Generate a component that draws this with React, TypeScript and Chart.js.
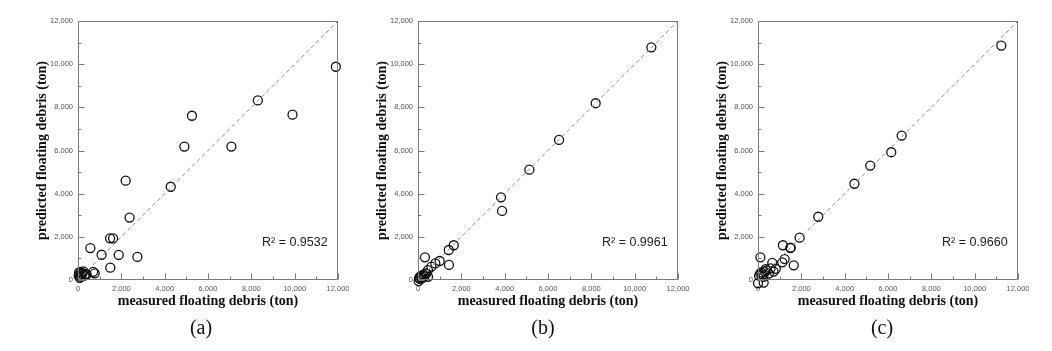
import React, { useEffect, useRef } from "react";
import { Chart, registerables } from "chart.js";

Chart.register(...registerables);

const captions = ["(a)", "(b)", "(c)"];
const r2Labels = ["0.9532", "0.9961", "0.9660"];
const axisMax = 12000;
const tickStep = 2000;
const diagonal = [0, 12000];

const measuredA = [11900, 8300, 9900, 5260, 4910, 7080, 2200, 4280, 2380, 1480, 1620, 570, 1090, 1880, 2740, 1490, 770, 700, 50, 100, 200, 150, 300, 250, 80, 350, 30, 180, 120, 400];
const predictedA = [9880, 8320, 7660, 7610, 6180, 6180, 4600, 4320, 2890, 1930, 1930, 1480, 1170, 1160, 1070, 570, 310, 380, 350, 250, 300, 150, 200, 400, 100, 280, 200, 330, 380, 250];

const measuredB = [10770, 8200, 6510, 5140, 3830, 3880, 1650, 1420, 320, 1430, 1000, 800, 620, 460, 380, 460, 50, 100, 150, 200, 250, 80, 30, 300, 350, 180];
const predictedB = [10780, 8190, 6490, 5110, 3830, 3200, 1610, 1390, 1050, 700, 880, 770, 620, 460, 310, 150, 100, 150, 200, 130, 250, 50, -50, 180, 300, 80];

const measuredC = [11230, 6630, 6150, 5180, 4450, 2780, 1920, 1150, 1490, 1510, 1230, 1650, 1120, 110, 660, 820, 720, 580, 260, 0, 100, 200, 300, 150, 400, 50, 250, 350, 500];
const predictedC = [10860, 6690, 5920, 5300, 4460, 2930, 1960, 1610, 1480, 1500, 970, 680, 820, 1050, 790, 520, 390, 540, -120, -150, 300, 250, 400, 350, 450, 200, 150, 500, 300];

const panels = [
  { measured: measuredA, predicted: predictedA },
  { measured: measuredB, predicted: predictedB },
  { measured: measuredC, predicted: predictedC },
];

const PANEL_STEP = 340;
const CANVAS_W = 350;
const CANVAS_H = 320;

const framePlugin = {
  id: "frameTicks",
  afterDraw(chart: any) {
    const { ctx, chartArea } = chart;
    const xs = chart.scales.x;
    const ys = chart.scales.y;
    ctx.save();
    ctx.strokeStyle = "#7a7a7a";
    ctx.lineWidth = 1;
    const l = Math.round(chartArea.left) + 0.5;
    const t = Math.round(chartArea.top) + 0.5;
    const r = Math.round(chartArea.right) - 0.5;
    const b = Math.round(chartArea.bottom) - 0.5;
    ctx.beginPath();
    ctx.rect(l, t, r - l, b - t);
    ctx.stroke();
    ctx.beginPath();
    for (let v = 0; v <= axisMax; v += tickStep / 2) {
      const len = v % tickStep === 0 ? 6 : 3;
      const px = Math.round(xs.getPixelForValue(v)) + 0.5;
      ctx.moveTo(px, b);
      ctx.lineTo(px, b - len);
      const py = Math.round(ys.getPixelForValue(v)) + 0.5;
      ctx.moveTo(l, py);
      ctx.lineTo(l + len, py);
    }
    ctx.stroke();
    const label = chart.options.plugins.frameTicks.label;
    ctx.fillStyle = "#222";
    ctx.font = "12.5px 'Liberation Sans', Arial, sans-serif";
    ctx.textBaseline = "middle";
    ctx.textAlign = "left";
    ctx.fillText("R\u00B2 = " + label, chartArea.left + 184, chartArea.top + 222);
    ctx.restore();
  },
};

function Panel({ index }: { index: number }) {
  const ref = useRef<HTMLCanvasElement | null>(null);
  useEffect(() => {
    if (!ref.current) return;
    const p = panels[index];
    const pts = p.measured.map((m, i) => ({ x: m, y: p.predicted[i] }));
    const tickFont = { family: "'Liberation Sans', Arial, sans-serif", size: 7.5 };
    const titleFont = { family: "'Liberation Serif', 'Times New Roman', serif", size: 14, weight: "bold" as const };
    const chart = new Chart(ref.current, {
      type: "scatter",
      data: {
        datasets: [
          {
            type: "line",
            data: diagonal.map((d) => ({ x: d, y: d })),
            borderColor: "#8a8a8a",
            borderWidth: 1,
            borderDash: [4, 3],
            pointRadius: 0,
            fill: false,
          } as any,
          {
            data: pts,
            pointStyle: "circle",
            pointRadius: 4.5,
            pointBorderWidth: 1.3,
            pointBorderColor: "#111",
            pointBackgroundColor: "rgba(0,0,0,0)",
            borderColor: "#111",
            backgroundColor: "rgba(0,0,0,0)",
            clip: false,
          } as any,
        ],
      },
      options: {
        responsive: false,
        animation: false,
        devicePixelRatio: 1,
        layout: { padding: { top: 21, right: 12, left: 0, bottom: 0 } },
        plugins: {
          legend: { display: false },
          tooltip: { enabled: false },
          frameTicks: { label: r2Labels[index] },
        } as any,
        scales: {
          x: {
            type: "linear",
            min: 0,
            max: axisMax,
            grid: { display: false, drawTicks: false },
            border: { display: false },
            ticks: {
              stepSize: tickStep,
              font: tickFont,
              color: "#555",
              padding: 4,
              maxRotation: 0,
              callback: (v: any) => Number(v).toLocaleString("en-US"),
            },
            title: {
              display: true,
              text: "measured floating debris (ton)",
              font: titleFont,
              color: "#111",
              padding: { top: 0, bottom: 10.6 },
            },
            afterFit: (s: any) => {
              s.height = 40;
              s.paddingLeft = 0;
              s.paddingRight = 0;
            },
          },
          y: {
            type: "linear",
            min: 0,
            max: axisMax,
            grid: { display: false, drawTicks: false },
            border: { display: false },
            ticks: {
              stepSize: tickStep,
              font: tickFont,
              color: "#555",
              padding: 5,
              callback: (v: any) => Number(v).toLocaleString("en-US"),
            },
            title: {
              display: true,
              text: "predicted floating debris (ton)",
              font: titleFont,
              color: "#111",
              padding: { top: 33.6, bottom: 0 },
            },
            afterFit: (s: any) => {
              s.width = 78;
              s.paddingTop = 0;
              s.paddingBottom = 0;
            },
          },
        } as any,
      },
      plugins: [framePlugin as any],
    });
    return () => chart.destroy();
  }, [index]);
  return (
    <canvas
      ref={ref}
      width={CANVAS_W}
      height={CANVAS_H}
      style={{ position: "absolute", left: index * PANEL_STEP, top: 0, width: CANVAS_W, height: CANVAS_H }}
    />
  );
}

const captionCenters = [201, 543, 882];

export default function App() {
  return (
    <div style={{ position: "absolute", left: 0, top: 0, width: 1052, height: 351, background: "#fff", overflow: "hidden" }}>
      {captions.map((_, i) => (
        <Panel key={i} index={i} />
      ))}
      {captions.map((c, i) => (
        <div
          key={"c" + i}
          style={{
            position: "absolute",
            left: captionCenters[i] - 40,
            width: 80,
            top: 315,
            textAlign: "center",
            fontFamily: "'Liberation Serif', 'Times New Roman', serif",
            fontSize: 20,
            lineHeight: "24px",
            color: "#111",
          }}
        >
          {c}
        </div>
      ))}
    </div>
  );
}
